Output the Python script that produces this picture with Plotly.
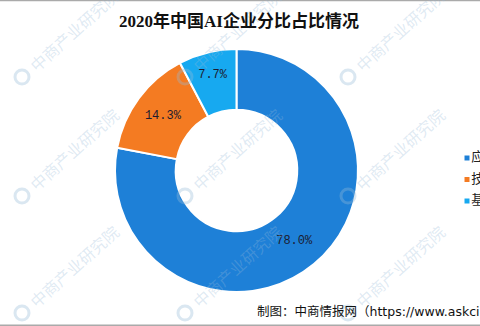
import plotly.graph_objects as go

# ---- data ----
categories = ["应用层", "技术层", "基础层"]
shares = [78.0, 14.3, 7.7]
colors = ["#1E80D7", "#F47B22", "#17A9F0"]

title_text = "2020年中国AI企业分比占比情况"
source_text = "制图：中商情报网（https://www.askci.com）"
watermark_text = "中商产业研究院"

W, H = 480, 326

fig = go.Figure()

# donut
cx, cy, R = 236.5, 170.5, 121.5
fig.add_trace(go.Pie(
    labels=categories,
    values=shares,
    hole=0.5,
    sort=False,
    direction="clockwise",
    rotation=0,
    marker=dict(colors=colors, line=dict(color="white", width=2)),
    texttemplate="%{value:.1f}%",
    textposition="inside",
    insidetextorientation="horizontal",
    textfont=dict(family="Liberation Mono, monospace", size=12, color="#1c1c30"),
    showlegend=False,
    hoverinfo="label+percent",
    domain=dict(x=[(cx - R) / W, (cx + R) / W],
                y=[(H - cy - R) / H, (H - cy + R) / H]),
))

# custom legend (small squares + labels) on a hidden pixel-mapped axis
leg_x, leg_y0, leg_step = 467, 158, 21.5
fig.add_trace(go.Scatter(
    x=[leg_x] * len(categories),
    y=[leg_y0 + i * leg_step for i in range(len(categories))],
    mode="markers+text",
    marker=dict(symbol="square", size=5, color=colors),
    text=categories,
    textposition="middle right",
    textfont=dict(family="Noto Sans CJK SC", size=13, color="#222"),
    showlegend=False,
    hoverinfo="skip",
    cliponaxis=False,
))

annotations = []
shapes = []

# watermarks
wm_cols = [22, 185, 348]
wm_rows = [77, 196, 313]
for lx in wm_cols:
    for ly in wm_rows:
        annotations.append(dict(
            x=(lx + 52) / W, y=(H - (ly - 47)) / H, xref="paper", yref="paper",
            xanchor="center", yanchor="middle",
            text=watermark_text, showarrow=False, textangle=-42,
            font=dict(family="Noto Sans CJK SC", size=16, color="rgba(150,185,215,0.3)"),
        ))
        shapes.append(dict(
            type="circle", xref="x", yref="y",
            x0=lx - 7, x1=lx + 7, y0=ly - 7, y1=ly + 7,
            line=dict(color="rgba(150,185,215,0.35)", width=3),
            layer="above",
        ))

# title
annotations.append(dict(
    x=239 / W, y=(H - 21) / H, xref="paper", yref="paper",
    text="<b>" + title_text + "</b>", showarrow=False,
    xanchor="center", yanchor="middle",
    font=dict(family="Liberation Serif, Noto Sans CJK SC", size=17, color="#111"),
))

# source
annotations.append(dict(
    x=255 / W, y=(H - 311) / H, xref="paper", yref="paper",
    text=source_text, showarrow=False,
    xanchor="left", yanchor="middle",
    font=dict(family="DejaVu Sans, Noto Sans CJK SC", size=12.5, color="#111"),
))

# frame lines of the screenshot
shapes.append(dict(type="line", xref="x", yref="y", x0=0, x1=W, y0=0.5, y1=0.5,
                   line=dict(color="#aaaaaa", width=1.5)))
shapes.append(dict(type="line", xref="x", yref="y", x0=0, x1=W, y0=H - 0.8, y1=H - 0.8,
                   line=dict(color="#aaaaaa", width=1.5)))

fig.update_layout(
    width=W, height=H,
    margin=dict(l=0, r=0, t=0, b=0),
    paper_bgcolor="white", plot_bgcolor="rgba(0,0,0,0)",
    xaxis=dict(range=[0, W], visible=False, fixedrange=True),
    yaxis=dict(range=[H, 0], visible=False, fixedrange=True),
    annotations=annotations,
    shapes=shapes,
    showlegend=False,
)

fig.write_html("out.html")
